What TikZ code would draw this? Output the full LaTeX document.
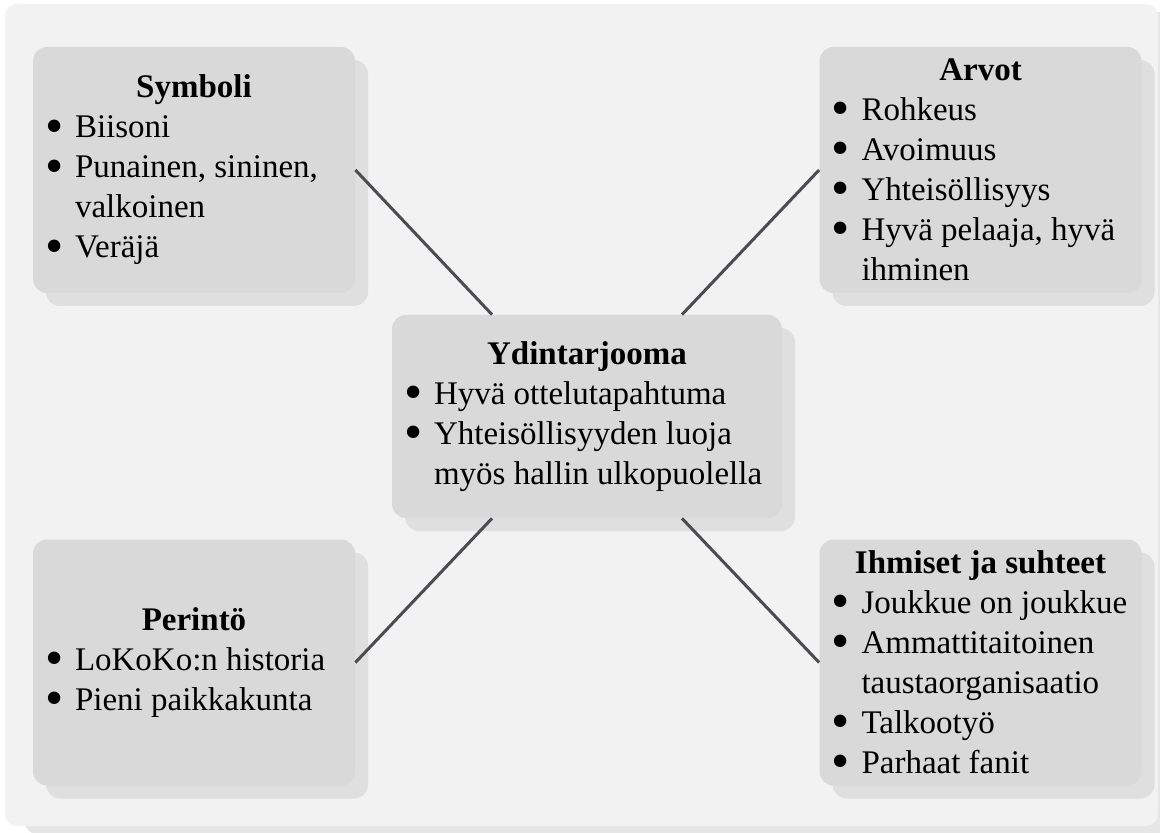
\documentclass[tikz,border=0pt]{standalone}
\usepackage{fontspec}
\setmainfont{Liberation Serif}
\usetikzlibrary{shadows}
\definecolor{Backdrop}{HTML}{F2F2F2}
\definecolor{BackShade}{HTML}{E6E6E6}
\definecolor{BoxFill}{HTML}{D9D9D9}
\definecolor{BoxShade}{HTML}{DFDFDF}
\definecolor{LinkGrey}{HTML}{4B4B52}
\newcommand{\otsikko}[1]{\noindent\hspace*{\fill}\textbf{#1}\hspace*{\fill}\par}
\newcommand{\kohta}[1]{\noindent\hangindent=17pt\makebox[17pt][l]{\hspace{2pt}\smash{\raisebox{-2.6pt}{\fontsize{26}{20}\selectfont\textbullet}}}#1\par}

\begin{document}
\begin{tikzpicture}[x=0.5pt,y=-0.5pt,
  lohko/.style={fill=BoxFill,rounded corners=7pt,inner xsep=4pt,inner ysep=1pt,align=flush left,
    font=\fontsize{16.5}{20}\selectfont,
    drop shadow={shadow xshift=6.5pt,shadow yshift=-6.5pt,fill=BoxShade,opacity=1}},
  sivu/.style={lohko,text width=153pt,minimum width=161pt,minimum height=123pt},
  linkki/.style={LinkGrey,line width=1.5pt}]
\useasboundingbox (0,0) rectangle (1160,833);
\fill[Backdrop,rounded corners=6pt,drop shadow={shadow xshift=10pt,shadow yshift=-4pt,fill=BackShade,opacity=1}] (5,4) rectangle (1158,826);
% the four corner boxes and the core
\node[sivu] (sym) at (194,170){\otsikko{Symboli}\kohta{Biisoni}\kohta{Punainen, sininen,\newline valkoinen}\kohta{Veräjä}};
\node[sivu] (arv) at (980.5,170){\otsikko{Arvot}\kohta{Rohkeus}\kohta{Avoimuus}\kohta{Yhteisöllisyys}\kohta{Hyvä pelaaja, hyvä\newline ihminen}};
\node[sivu] (per) at (194,662.5){\otsikko{Perintö}\kohta{LoKoKo:n historia}\kohta{Pieni paikkakunta}};
\node[sivu] (ihm) at (980.5,662.5){\otsikko{Ihmiset ja suhteet}\kohta{Joukkue on joukkue}\kohta{Ammattitaitoinen\newline taustaorganisaatio}\kohta{Talkootyö}\kohta{Parhaat fanit}};
\node[lohko,text width=187pt,minimum width=195pt,minimum height=101.5pt] (core) at (587,416.5){\otsikko{Ydintarjooma}\kohta{Hyvä ottelutapahtuma}\kohta{Yhteisöllisyyden luoja\newline myös hallin ulkopuolella}};
% spokes
\draw[linkki] (sym.east)--([xshift=-47.5pt]core.north); \draw[linkki] (arv.west)--([xshift=47.5pt]core.north);
\draw[linkki] (per.east)--([xshift=-47.5pt]core.south); \draw[linkki] (ihm.west)--([xshift=47.5pt]core.south);
\end{tikzpicture}
\end{document}
